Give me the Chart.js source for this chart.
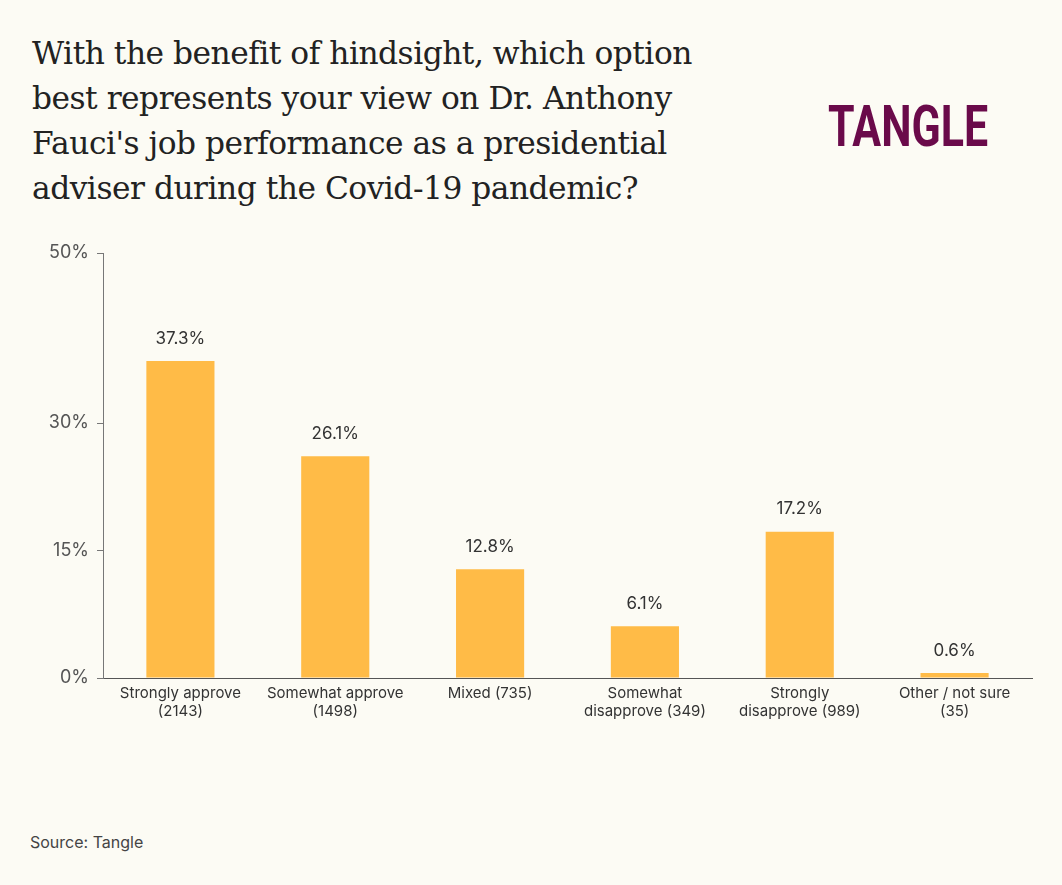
<!DOCTYPE html>
<html lang="en">
<head>
<meta charset="UTF-8">
<title>Fauci poll</title>
<script src="https://cdn.jsdelivr.net/npm/chart.js@4.4.1/dist/chart.umd.min.js"></script>
<style>
  body { margin: 0; background: #fcfbf4; width: 1062px; height: 885px; position: relative; overflow: hidden; font-family: "Inter", sans-serif; }
  h1 { position: absolute; left: 32px; top: 31px; margin: 0; font-family: "DejaVu Serif", serif; font-weight: normal; font-size: 31.3px; line-height: 45px; color: #222; letter-spacing: -0.5px; }
  .logo { position: absolute; left: 828px; top: 92px; font-family: "Roboto", sans-serif; font-weight: bold; font-size: 58px; color: #6a0a4a; transform: scaleX(0.74); transform-origin: left top; }
  .src { position: absolute; left: 30px; top: 832px; font-size: 16px; color: #444; }
  #wrap { position: absolute; left: 0; top: 230px; width: 1062px; height: 496px; }
</style>
</head>
<body>
<h1>With the benefit of hindsight, which option<br>best represents your view on Dr. Anthony<br>Fauci's job performance as a presidential<br>adviser during the Covid-19 pandemic?</h1>
<div class="logo">TANGLE</div>
<div id="wrap"><canvas id="c"></canvas></div>
<div class="src">Source: Tangle</div>
<script>
const categories = [["Strongly approve", "(2143)"], ["Somewhat approve", "(1498)"], ["Mixed (735)"], ["Somewhat", "disapprove (349)"], ["Strongly", "disapprove (989)"], ["Other / not sure", "(35)"]];
const shares = [37.3, 26.1, 12.8, 6.1, 17.2, 0.6];
const yTicks = [0, 15, 30, 50];

const valueLabels = {
  id: 'valueLabels',
  afterDatasetsDraw(chart) {
    const ctx = chart.ctx;
    ctx.save();
    ctx.font = '17px Inter, sans-serif';
    ctx.fillStyle = '#333';
    ctx.textAlign = 'center';
    ctx.textBaseline = 'bottom';
    chart.getDatasetMeta(0).data.forEach((bar, i) => {
      ctx.fillText(shares[i].toFixed(1) + '%', bar.x, bar.y - 14);
    });
    ctx.restore();
  }
};

new Chart(document.getElementById('c'), {
  type: 'bar',
  data: { labels: categories, datasets: [{ data: shares, backgroundColor: '#ffbb47', barPercentage: 0.88, categoryPercentage: 0.5 }] },
  options: {
    responsive: true, maintainAspectRatio: false, animation: false,
    layout: { padding: { top: 23, right: 30, left: 28 } },
    plugins: { legend: { display: false }, tooltip: { enabled: false } },
    scales: {
      x: {
        grid: { display: false, drawTicks: false },
        border: { color: '#555' },
        ticks: { color: '#333', font: { size: 15, family: 'Inter' }, maxRotation: 0, padding: 6 }
      },
      y: {
        min: 0, max: 50,
        afterBuildTicks(axis) { axis.ticks = yTicks.map(v => ({ value: v })); },
        afterFit(axis) { axis.width = 75; },
        grid: { drawOnChartArea: false, tickLength: 6, color: '#777' },
        border: { color: '#777' },
        ticks: { color: '#555', font: { size: 18, family: 'Inter' }, padding: 8, callback: v => v + '%' }
      }
    }
  },
  plugins: [valueLabels]
});
</script>
</body>
</html>
